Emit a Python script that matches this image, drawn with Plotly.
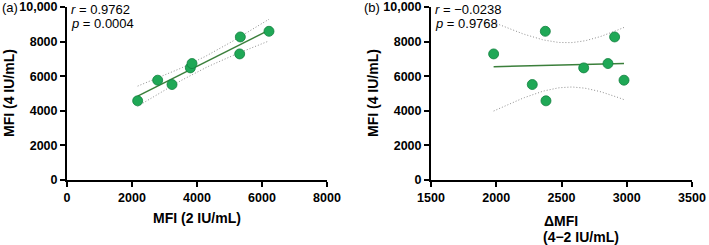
import numpy as np
import plotly.graph_objects as go

# Data
mfi_2 = [2174, 2790, 3231, 3795, 3846, 5313, 5333, 6215]
mfi_4 = [4577, 5769, 5519, 6481, 6731, 7288, 8269, 8596]
delta_mfi = [2381, 2979, 2276, 2670, 2856, 1980, 2907, 2376]
y_ticks = [0, 2000, 4000, 6000, 8000, 10000]
y_ticktext = ["0", "2000", "4000", "6000", "8000", "10,000"]
xa_ticks = [0, 2000, 4000, 6000, 8000]
xb_ticks = [1500, 2000, 2500, 3000, 3500]
stats_a = ("0.9762", "0.0004")
stats_b = ("\u22120.0238", "0.9768")

W, H = 709, 245
FONT = "Liberation Sans, Arial, sans-serif"
MARK = "#1fa856"
MARK_EDGE = "#11803f"
LINE = "#3b7f3b"
BAND = "#8f8f8f"
T_CRIT = 2.4469  # t(0.975, df=6)


def fit_band(x, y, n_pts=60):
    x = np.asarray(x, float)
    y = np.asarray(y, float)
    n = len(x)
    b, a = np.polyfit(x, y, 1)
    res = y - (a + b * x)
    s = np.sqrt(np.sum(res ** 2) / (n - 2))
    xm = x.mean()
    sxx = np.sum((x - xm) ** 2)
    xs = np.linspace(x.min(), x.max(), n_pts)
    yh = a + b * xs
    se = s * np.sqrt(1 / n + (xs - xm) ** 2 / sxx)
    return xs, yh, yh - T_CRIT * se, yh + T_CRIT * se


fig = go.Figure()


def add_panel(x, y, xa, ya):
    xs, yh, lo, hi = fit_band(x, y)
    for band in (lo, hi):
        fig.add_trace(go.Scatter(x=xs, y=band, mode="lines", xaxis=xa, yaxis=ya,
                                 line=dict(color=BAND, width=1, dash="1px,2px"),
                                 showlegend=False, hoverinfo="skip"))
    fig.add_trace(go.Scatter(x=xs, y=yh, mode="lines", xaxis=xa, yaxis=ya,
                             line=dict(color=LINE, width=1.5),
                             showlegend=False, hoverinfo="skip"))
    fig.add_trace(go.Scatter(x=x, y=y, mode="markers", xaxis=xa, yaxis=ya,
                             marker=dict(color=MARK, size=10,
                                         line=dict(color=MARK_EDGE, width=0.8)),
                             showlegend=False, cliponaxis=False))


add_panel(mfi_2, mfi_4, "x", "y")
add_panel(delta_mfi, mfi_4, "x2", "y2")


def px_x(p):
    return p / W


def px_y(p):
    return 1 - p / H


axis_common = dict(showline=True, linecolor="black", linewidth=2,
                   ticks="outside", ticklen=5, tickwidth=2, tickcolor="black",
                   showgrid=False, zeroline=False, automargin=False,
                   tickfont=dict(family=FONT, size=12.5, color="black", weight="bold"))

fig.update_layout(
    template="none",
    width=W, height=H,
    margin=dict(l=0, r=0, t=0, b=0, pad=0, autoexpand=False),
    paper_bgcolor="white", plot_bgcolor="white",
    xaxis=dict(domain=[px_x(67), px_x(327)], range=[0, 8000], tickvals=xa_ticks,
               anchor="y", **axis_common),
    yaxis=dict(domain=[px_y(180), px_y(7)], range=[0, 10000], tickvals=y_ticks,
               ticktext=y_ticktext, anchor="x", **axis_common),
    xaxis2=dict(domain=[px_x(431), px_x(692)], range=[1500, 3500], tickvals=xb_ticks,
                anchor="y2", **axis_common),
    yaxis2=dict(domain=[px_y(180), px_y(7)], range=[0, 10000], tickvals=y_ticks,
                ticktext=y_ticktext, anchor="x2", **axis_common),
)

ann = []


def txt(x, y, text, size=13, bold=False, xanchor="left", angle=0):
    ann.append(dict(x=px_x(x), y=px_y(y), xref="paper", yref="paper", text=text,
                    showarrow=False, xanchor=xanchor, yanchor="middle", textangle=angle,
                    font=dict(family=FONT, size=size, color="black",
                              weight="bold" if bold else "normal")))


# panel labels
txt(0, 8, "(a)", size=13)
txt(362, 8, "(b)", size=13)
# stats
txt(69, 9, "<i>r</i> = " + stats_a[0])
txt(69, 24, "<i>p</i> = " + stats_a[1])
txt(433, 9, "<i>r</i> = " + stats_b[0])
txt(433, 24, "<i>p</i> = " + stats_b[1])
# axis titles
txt(197, 218, "MFI (2 IU/mL)", size=14, bold=True, xanchor="center")
txt(9, 93, "MFI (4 IU/mL)", size=14, bold=True, xanchor="center", angle=-90)
txt(373, 93, "MFI (4 IU/mL)", size=14, bold=True, xanchor="center", angle=-90)
txt(561, 221, "\u0394MFI", size=14, bold=True, xanchor="center")
txt(581, 237, "(4\u22122 IU/mL)", size=14, bold=True, xanchor="center")

fig.update_layout(annotations=ann)
fig.write_html("out.html")
